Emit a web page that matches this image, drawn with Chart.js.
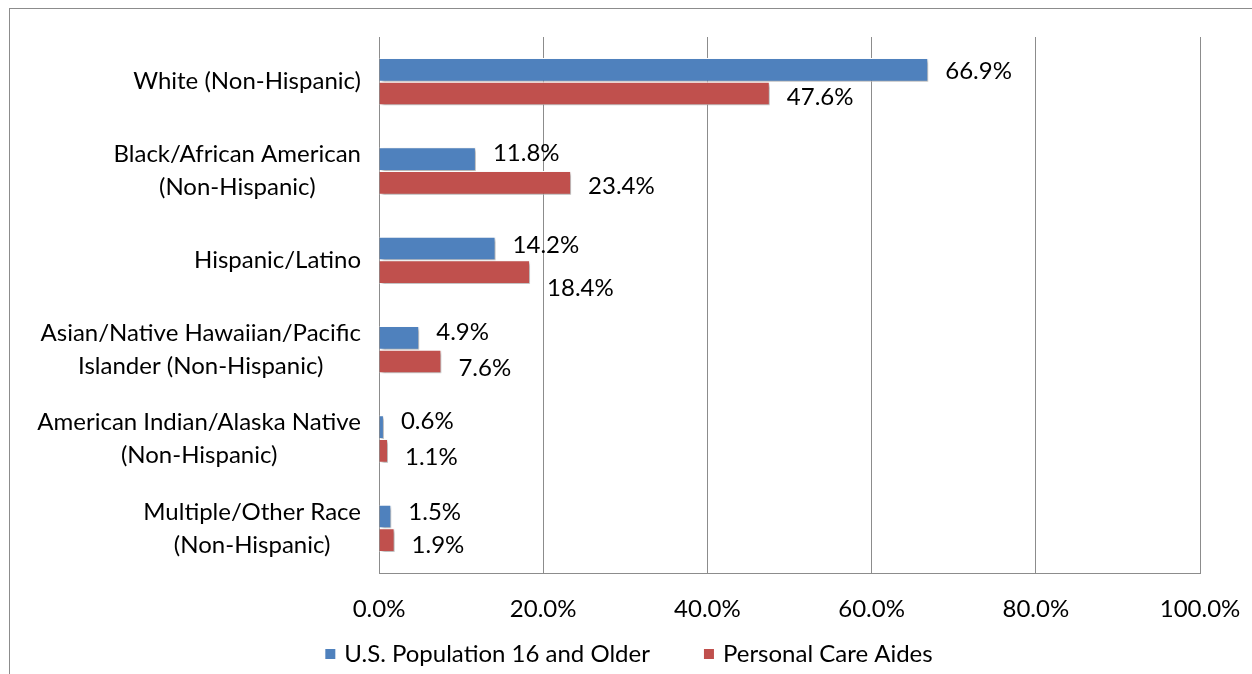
<!DOCTYPE html>
<html lang="en">
<head>
  <meta charset="UTF-8" />
  <title>Race/Ethnicity: Personal Care Aides vs U.S. Population</title>
  <script src="https://cdn.jsdelivr.net/npm/chart.js"></script>
  <style>
    body {
      margin: 0;
      background: #fff;
    }
    #wrap {
      position: relative;
      width: 1252px;
      height: 674px;
    }
    #frame {
      position: absolute;
      left: 9px;
      top: 8px;
      right: 0;
      bottom: 0;
      border-left: 1px solid #8c8c8c;
      border-top: 1px solid #8c8c8c;
    }
    canvas {
      position: absolute;
      left: 0;
      top: 0;
    }
  </style>
</head>
<body>
  <div id="wrap">
    <div id="frame"></div>
    <canvas id="grafico"></canvas>
  </div>

  <script>
    const categorias = [
      'White (Non-Hispanic)',
      ['Black/African American', '(Non-Hispanic)'],
      'Hispanic/Latino',
      ['Asian/Native Hawaiian/Pacific', 'Islander (Non-Hispanic)'],
      ['American Indian/Alaska Native', '(Non-Hispanic)'],
      ['Multiple/Other Race', '(Non-Hispanic)']
    ];
    const populacaoUS = [66.9, 11.8, 14.2, 4.9, 0.6, 1.5];
    const cuidadores = [47.6, 23.4, 18.4, 7.6, 1.1, 1.9];
    const fonte = 'Lato, "Open Sans", sans-serif';
    const tamanho = 24;

    // sombra leve atrás das barras
    const sombra = {
      id: 'sombra',
      beforeDatasetsDraw(chart) {
        const ctx = chart.ctx;
        ctx.save();
        ctx.shadowColor = 'rgba(0,0,0,0.35)';
        ctx.shadowBlur = 3;
        ctx.shadowOffsetX = 2;
        ctx.shadowOffsetY = 2;
      },
      afterDatasetsDraw(chart) {
        chart.ctx.restore();
      }
    };

    // rótulos com o valor de cada barra (pequeno ajuste vertical para não encostarem)
    const ajusteY = [
      [0, -7, -4, -7, -7, -5],
      [3, 2, 15, 6, 5, 4]
    ];
    const rotulos = {
      id: 'rotulos',
      afterDatasetsDraw(chart) {
        const ctx = chart.ctx;
        ctx.save();
        ctx.font = tamanho + 'px ' + fonte;
        ctx.fillStyle = '#000';
        ctx.textAlign = 'left';
        ctx.textBaseline = 'middle';
        chart.data.datasets.forEach((ds, i) => {
          chart.getDatasetMeta(i).data.forEach((bar, j) => {
            ctx.fillText(ds.data[j].toFixed(1) + '%', bar.x + 17, bar.y + 1 + ajusteY[i][j]);
          });
        });
        ctx.restore();
      }
    };

    // nomes das categorias: bloco alinhado à direita, linhas centradas entre si
    const nomes = {
      id: 'nomes',
      afterDraw(chart) {
        const ctx = chart.ctx;
        const escala = chart.scales.y;
        const direita = escala.right - 18;
        const entre = 33;
        ctx.save();
        ctx.font = tamanho + 'px ' + fonte;
        ctx.fillStyle = '#000';
        ctx.textAlign = 'center';
        ctx.textBaseline = 'middle';
        chart.data.labels.forEach((rot, i) => {
          const linhas = Array.isArray(rot) ? rot : [rot];
          const maior = Math.max(...linhas.map(l => ctx.measureText(l).width));
          const cx = direita - maior / 2;
          const y0 = escala.getPixelForTick(i) - (linhas.length - 1) * entre / 2;
          linhas.forEach((l, k) => ctx.fillText(l, cx, y0 + k * entre));
        });
        ctx.restore();
      }
    };

    // legenda desenhada à mão, centrada embaixo
    const legenda = {
      id: 'legenda',
      afterDraw(chart) {
        const ctx = chart.ctx;
        const ds = chart.data.datasets;
        ctx.save();
        ctx.font = tamanho + 'px ' + fonte;
        ctx.textBaseline = 'middle';
        const caixa = 10, gap = 9, espaco = 54;
        const larguras = ds.map(d => ctx.measureText(d.label).width);
        let total = 0;
        larguras.forEach((w, i) => { total += caixa + gap + w + (i ? espaco : 0); });
        let x = chart.width / 2 - total / 2 + 3;
        const y = 654;
        ds.forEach((d, i) => {
          ctx.fillStyle = d.backgroundColor;
          ctx.fillRect(x, y - caixa / 2, caixa, caixa);
          ctx.fillStyle = '#000';
          ctx.fillText(d.label, x + caixa + gap, y);
          x += caixa + gap + larguras[i] + espaco;
        });
        ctx.restore();
      }
    };

    new Chart(document.getElementById('grafico'), {
      type: 'bar',
      data: {
        labels: categorias,
        datasets: [
          {
            label: 'U.S. Population 16 and Older',
            data: populacaoUS,
            backgroundColor: '#4F81BD',
            borderColor: '#fff',
            borderWidth: 1
          },
          {
            label: 'Personal Care Aides',
            data: cuidadores,
            backgroundColor: '#C0504D',
            borderColor: '#fff',
            borderWidth: 1
          }
        ]
      },
      options: {
        indexAxis: 'y',
        responsive: true,
        maintainAspectRatio: false,
        animation: false,
        categoryPercentage: 0.53,
        barPercentage: 1,
        layout: {
          padding: { top: 37, right: 52, bottom: 41, left: 0 }
        },
        scales: {
          x: {
            min: 0,
            max: 100,
            ticks: {
              stepSize: 20,
              color: '#000',
              padding: 22,
              font: { family: fonte, size: tamanho },
              callback: v => v.toFixed(1) + '%'
            },
            grid: { color: '#8c8c8c', drawTicks: false },
            border: { color: '#8c8c8c' },
            afterFit(scale) {
              scale.height = 60;
              scale.paddingLeft = 0;
              scale.paddingRight = 0;
            }
          },
          y: {
            ticks: { display: false },
            grid: { display: false, drawTicks: false },
            border: { color: '#8c8c8c' },
            afterFit(scale) {
              scale.width = 379;
              scale.paddingTop = 0;
              scale.paddingBottom = 0;
            }
          }
        },
        plugins: {
          legend: { display: false },
          tooltip: { enabled: false }
        }
      },
      plugins: [sombra, rotulos, nomes, legenda]
    });
  </script>
</body>
</html>
